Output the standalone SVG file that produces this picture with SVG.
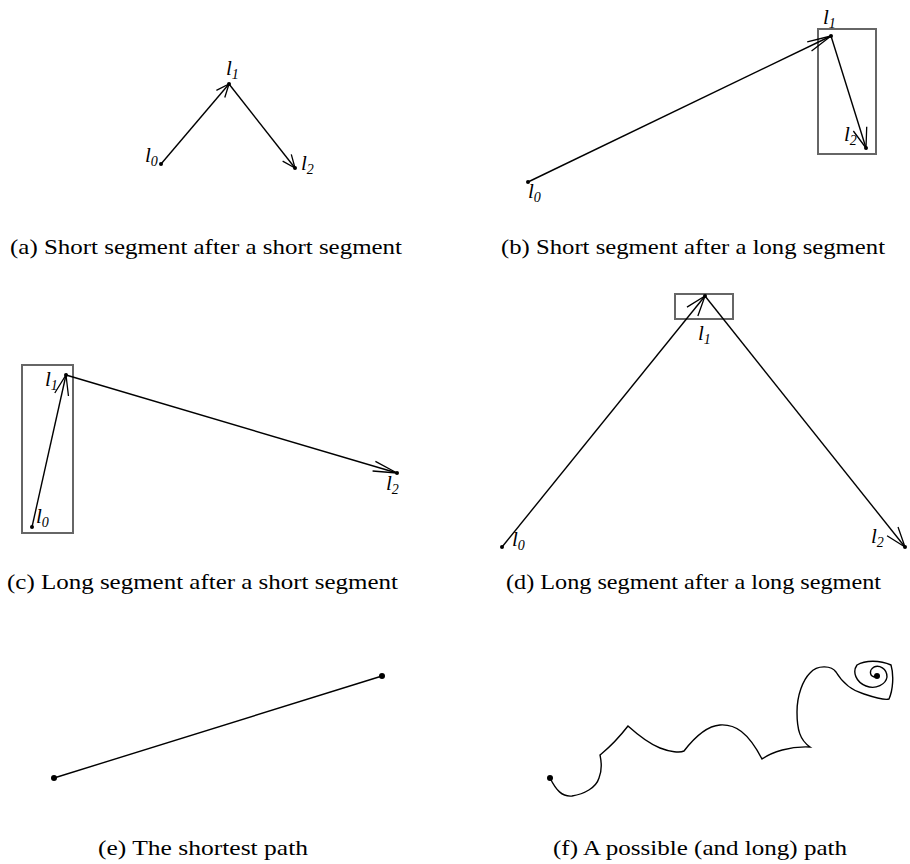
<svg xmlns="http://www.w3.org/2000/svg" width="910" height="864" viewBox="0 0 910 864">
<defs>
<style>
.seg{stroke:#000;stroke-width:1.4;fill:none}
.box{stroke:#666;stroke-width:2;fill:none}
.pt{fill:#000}
.lbl{font-family:"Liberation Serif",serif;font-style:italic;font-size:21px;fill:#000}
.sub{font-size:14px}
.cap{font-family:"Liberation Serif",serif;font-size:21.5px;fill:#000}
</style>
<marker id="as" markerUnits="userSpaceOnUse" markerWidth="16" markerHeight="14" viewBox="-14 -7 16 14" refX="0" refY="0" orient="auto">
<path d="M-13,-5.5 L0,0 L-13,5.5" fill="none" stroke="#000" stroke-width="1.3"/>
</marker>
<marker id="al" markerUnits="userSpaceOnUse" markerWidth="28" markerHeight="14" viewBox="-26 -7 28 14" refX="0" refY="0" orient="auto">
<path d="M-24,-5 L0,0 L-24,5" fill="none" stroke="#000" stroke-width="1.3"/>
</marker>
<marker id="am" markerUnits="userSpaceOnUse" markerWidth="24" markerHeight="18" viewBox="-22 -9 24 18" refX="0" refY="0" orient="auto">
<path d="M-20,-7 L0,0 L-20,7" fill="none" stroke="#000" stroke-width="1.3"/>
</marker>
</defs>
<rect width="910" height="864" fill="#fff"/>

<g id="boxes">
<rect class="box" x="818" y="29" width="58" height="125"/>
<rect class="box" x="22" y="365" width="51" height="168"/>
<rect class="box" x="675" y="294" width="58" height="25"/>
</g>

<g id="connectors">
<line class="seg" x1="161" y1="164" x2="229" y2="84" marker-end="url(#as)"/>
<line class="seg" x1="229" y1="84" x2="295" y2="168" marker-end="url(#as)"/>
<line class="seg" x1="528" y1="182" x2="831" y2="36" marker-end="url(#al)"/>
<line class="seg" x1="831" y1="36" x2="866" y2="148" marker-end="url(#am)"/>
<line class="seg" x1="32" y1="527" x2="66" y2="375" marker-end="url(#am)"/>
<line class="seg" x1="66" y1="375" x2="397" y2="473" marker-end="url(#al)"/>
<line class="seg" x1="502" y1="547" x2="705" y2="296" marker-end="url(#am)"/>
<line class="seg" x1="705" y1="296" x2="905" y2="547" marker-end="url(#am)"/>
<line class="seg" x1="54" y1="778" x2="382" y2="676"/>
<path class="seg" stroke-width="1.6" d="M550,778 C556,790 562,797 572,796 C584,794 596,788 599,778 C603,768 601,760 600,755 C606,750 614,744 628,726 C638,735 650,744 660,748 C670,752 680,753 684,751 C694,738 706,726 720,725 C735,724 748,732 762,759 C772,752 790,746 810,747 C800,740 797,730 797,712 C797,695 803,680 810,673 C818,664 832,666 836,672 C842,682 850,690 864,694 C876,698 886,700 889,699 C893,690 894,675 891,665 C880,660 865,660 857,665 C852,672 856,682 866,686 C876,690 886,684 887,677 C887,668 879,665 874,667 C869,670 869,677 876,677"/>
</g>

<g id="points">
<circle class="pt" cx="161" cy="164" r="2"/>
<circle class="pt" cx="229" cy="84" r="2"/>
<circle class="pt" cx="295" cy="168" r="2"/>
<circle class="pt" cx="528" cy="182" r="2"/>
<circle class="pt" cx="831" cy="36" r="2"/>
<circle class="pt" cx="866" cy="148" r="2"/>
<circle class="pt" cx="32" cy="527" r="2"/>
<circle class="pt" cx="66" cy="375" r="2"/>
<circle class="pt" cx="397" cy="473" r="2"/>
<circle class="pt" cx="502" cy="547" r="2"/>
<circle class="pt" cx="705" cy="296" r="2"/>
<circle class="pt" cx="905" cy="547" r="2"/>
<circle class="pt" cx="54" cy="778" r="3"/>
<circle class="pt" cx="382" cy="676" r="3"/>
<circle class="pt" cx="550" cy="778" r="3"/>
<circle class="pt" cx="877" cy="676" r="3"/>
</g>

<g id="panel-a">
<text class="lbl" x="145" y="162">l<tspan class="sub" dy="4">0</tspan></text>
<text class="lbl" x="226" y="75">l<tspan class="sub" dy="4">1</tspan></text>
<text class="lbl" x="301" y="170">l<tspan class="sub" dy="4">2</tspan></text>
<text class="cap" x="10" y="254" textLength="392" lengthAdjust="spacingAndGlyphs">(a) Short segment after a short segment</text>
</g>

<g id="panel-b">
<text class="lbl" x="528" y="198">l<tspan class="sub" dy="4">0</tspan></text>
<text class="lbl" x="823" y="24">l<tspan class="sub" dy="4">1</tspan></text>
<text class="lbl" x="844" y="141">l<tspan class="sub" dy="4">2</tspan></text>
<text class="cap" x="501" y="254" textLength="384" lengthAdjust="spacingAndGlyphs">(b) Short segment after a long segment</text>
</g>

<g id="panel-c">
<text class="lbl" x="45" y="386">l<tspan class="sub" dy="4">1</tspan></text>
<text class="lbl" x="36" y="523">l<tspan class="sub" dy="4">0</tspan></text>
<text class="lbl" x="386" y="490">l<tspan class="sub" dy="4">2</tspan></text>
<text class="cap" x="7" y="589" textLength="391" lengthAdjust="spacingAndGlyphs">(c) Long segment after a short segment</text>
</g>

<g id="panel-d">
<text class="lbl" x="698" y="340">l<tspan class="sub" dy="4">1</tspan></text>
<text class="lbl" x="512" y="546">l<tspan class="sub" dy="4">0</tspan></text>
<text class="lbl" x="871" y="543">l<tspan class="sub" dy="4">2</tspan></text>
<text class="cap" x="506" y="589" textLength="375" lengthAdjust="spacingAndGlyphs">(d) Long segment after a long segment</text>
</g>

<g id="panel-e">
<text class="cap" x="98" y="855" textLength="210" lengthAdjust="spacingAndGlyphs">(e) The shortest path</text>
</g>

<g id="panel-f">
<text class="cap" x="553" y="855" textLength="294" lengthAdjust="spacingAndGlyphs">(f) A possible (and long) path</text>
</g>
</svg>
